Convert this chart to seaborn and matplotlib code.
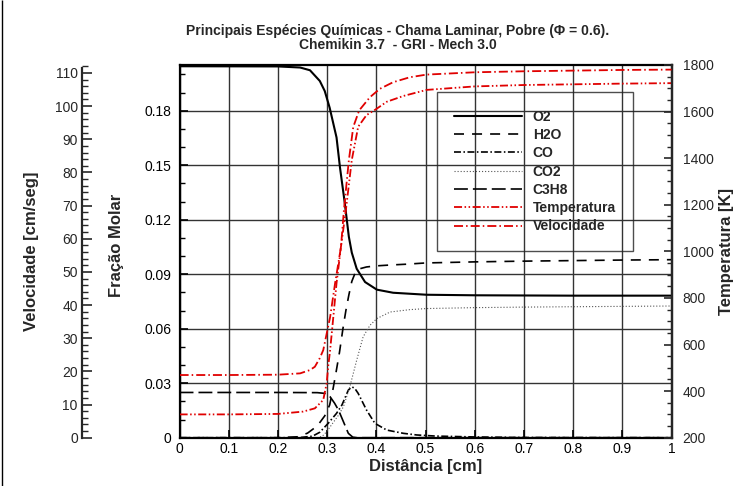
import matplotlib
matplotlib.use("Agg")
import matplotlib.pyplot as plt
import seaborn as sns
from matplotlib.ticker import MultipleLocator, FixedLocator, FixedFormatter
from matplotlib.patches import Rectangle

# --- dados (fracao molar) ---
x_o2 = [0, 0.2, 0.245, 0.265, 0.285, 0.295, 0.305, 0.319, 0.326, 0.336, 0.344, 0.350,
        0.360, 0.377, 0.401, 0.434, 0.502, 0.6, 0.7, 0.8, 0.9, 1.0]
o2 = [0.2045, 0.2044, 0.2038, 0.2023, 0.1964, 0.1909, 0.1817, 0.1653, 0.1488, 0.1287,
      0.1107, 0.1019, 0.0930, 0.0857, 0.0815, 0.0798, 0.0787, 0.0784, 0.0783, 0.0782,
      0.0782, 0.0782]

x_h2o = [0, 0.2, 0.24, 0.26, 0.28, 0.295, 0.305, 0.312, 0.318, 0.325, 0.332, 0.338,
         0.344, 0.350, 0.358, 0.366, 0.38, 0.40, 0.43, 0.46, 0.50, 0.6, 0.7, 0.8, 0.9, 1.0]
h2o = [0, 0, 0.0005, 0.0025, 0.0065, 0.012, 0.018, 0.027, 0.036, 0.047, 0.060, 0.070,
       0.0785, 0.0860, 0.0915, 0.0930, 0.0940, 0.0946, 0.0951, 0.0955, 0.0962, 0.0968,
       0.0972, 0.0975, 0.0978, 0.0980]

x_co = [0, 0.24, 0.27, 0.285, 0.302, 0.319, 0.330, 0.343, 0.350, 0.356, 0.363, 0.380,
        0.397, 0.421, 0.455, 0.482, 0.52, 0.6, 0.7, 1.0]
co = [0, 0, 0.0008, 0.003, 0.0079, 0.0134, 0.018, 0.0262, 0.0280, 0.0272, 0.0244,
      0.0152, 0.0079, 0.0042, 0.0024, 0.0015, 0.0009, 0.0004, 0.0001, 0.0]

x_co2 = [0, 0.28, 0.29, 0.299, 0.31, 0.322, 0.333, 0.346, 0.360, 0.373, 0.387, 0.401,
         0.428, 0.468, 0.502, 0.6, 0.7, 0.8, 0.9, 1.0]
co2 = [0, 0, 0.0008, 0.0033, 0.0075, 0.012, 0.017, 0.028, 0.0427, 0.0555, 0.0619,
       0.0656, 0.0692, 0.0705, 0.0711, 0.0716, 0.0719, 0.0721, 0.0723, 0.0725]

x_c3h8 = [0, 0.2, 0.28, 0.295, 0.306, 0.315, 0.323, 0.333, 0.343, 0.352, 0.36, 1.0]
c3h8 = [0.0249, 0.0249, 0.0248, 0.0244, 0.0225, 0.019, 0.0152, 0.0088, 0.0024, 0.0003, 0, 0]

# temperatura [K]
x_temp = [0, 0.1, 0.2, 0.251, 0.275, 0.292, 0.299, 0.302, 0.306, 0.3125, 0.319, 0.328,
          0.338, 0.350, 0.363, 0.380, 0.397, 0.421, 0.455, 0.502, 0.6, 0.7, 0.8, 0.9, 1.0]
temp = [300, 300, 302, 312, 326, 362, 434, 505, 576, 719, 863, 1020, 1177, 1392, 1535,
        1585, 1607, 1642, 1667, 1693, 1708, 1714, 1717, 1720, 1722]

# velocidade [cm/s]
x_vel = [0, 0.1, 0.2, 0.245, 0.265, 0.275, 0.285, 0.292, 0.306, 0.316, 0.328, 0.334,
         0.344, 0.353, 0.365, 0.387, 0.407, 0.434, 0.468, 0.502, 0.6, 0.7, 0.8, 0.9, 1.0]
vel = [18.9, 18.9, 19.0, 19.4, 20.4, 21.4, 24.0, 26.4, 36.4, 46.5, 57.5, 68.6, 83.6,
       93.7, 98.7, 102.7, 105.2, 107.2, 108.7, 109.5, 110.2, 110.5, 110.7, 110.9, 111.0]

x_ticks = [0, 0.1, 0.2, 0.3, 0.4, 0.5, 0.6, 0.7, 0.8, 0.9, 1.0]
x_labels = ["0", "0.1", "0.2", "0.3", "0.4", "0.5", "0.6", "0.7", "0.8", "0.9", "1"]
molar_ticks = [0, 0.03, 0.06, 0.09, 0.12, 0.15, 0.18]
molar_labels = ["0", "0.03", "0.06", "0.09", "0.12", "0.15", "0.18"]
temp_ticks = [200, 400, 600, 800, 1000, 1200, 1400, 1600, 1800]
vel_ticks = [0, 10, 20, 30, 40, 50, 60, 70, 80, 90, 100, 110]

sns.set_style("white")
plt.rcParams["font.family"] = ["Liberation Sans", "DejaVu Sans"]
plt.rcParams["lines.scale_dashes"] = False

RED = "#e00000"
TICK_FS = 10
LABEL_FS = 12

fig = plt.figure(figsize=(7.33, 4.86), dpi=100)
ax = fig.add_axes([0.245, 0.0994, 0.6712, 0.7669])
axT = ax.twinx()
axV = fig.add_axes(ax.get_position(), sharex=ax)
axV.patch.set_visible(False)

# curvas
sns.lineplot(x=x_o2, y=o2, ax=ax, color="black", lw=1.5, label="O2", legend=False)
sns.lineplot(x=x_h2o, y=h2o, ax=ax, color="black", lw=1.2,
             linestyle=(0, (7.2, 5.8)), label="H2O", legend=False)
sns.lineplot(x=x_co, y=co, ax=ax, color="black", lw=1.2,
             linestyle=(0, (5, 1.8, 1.1, 1.8)), label="CO", legend=False)
sns.lineplot(x=x_co2, y=co2, ax=ax, color="#555555", lw=0.8,
             linestyle=(0, (0.8, 1.4)), label="CO2", legend=False)
sns.lineplot(x=x_c3h8, y=c3h8, ax=ax, color="black", lw=1.2,
             linestyle=(0, (10, 3.6)), label="C3H8", legend=False)
sns.lineplot(x=x_temp, y=temp, ax=axT, color=RED, lw=1.3,
             linestyle=(0, (5.8, 1.8, 1.1, 1.8, 1.1, 1.8)), label="Temperatura", legend=False)
sns.lineplot(x=x_vel, y=vel, ax=axV, color=RED, lw=1.3,
             linestyle=(0, (6.5, 2.2, 1.1, 2.2)), label="Velocidade", legend=False)

# eixo principal (fracao molar)
ax.set_xlim(0, 1)
ax.set_ylim(0, 0.2052)
ax.xaxis.set_major_locator(FixedLocator(x_ticks))
ax.xaxis.set_major_formatter(FixedFormatter(x_labels))
ax.xaxis.set_minor_locator(MultipleLocator(0.02))
ax.yaxis.set_major_locator(FixedLocator(molar_ticks))
ax.yaxis.set_major_formatter(FixedFormatter(molar_labels))
ax.yaxis.set_minor_locator(MultipleLocator(0.01))
ax.grid(True, which="major", color="#333333", lw=1.0)
ax.tick_params(axis="both", which="both", direction="in", labelsize=TICK_FS, colors="black",
               width=1.2)
ax.tick_params(axis="both", which="major", length=6)
ax.tick_params(axis="both", which="minor", length=3.5, width=1.0)
ax.tick_params(axis="x", pad=3, bottom=True, top=False)
ax.tick_params(axis="y", pad=6, left=True, right=False)
for s in ax.spines.values():
    s.set_linewidth(1.6)
    s.set_color("black")
ax.set_xlabel("Distância [cm]", fontsize=LABEL_FS, fontweight="bold")
ax.xaxis.set_label_coords(0.5, -0.058)
ax.set_ylabel("Fração Molar", fontsize=LABEL_FS, fontweight="bold")
ax.yaxis.set_label_coords(-0.113, 0.515)

# temperatura (direita)
axT.set_ylim(200, 1800)
axT.yaxis.set_major_locator(FixedLocator(temp_ticks))
axT.yaxis.set_minor_locator(MultipleLocator(50))
axT.tick_params(axis="y", which="both", direction="in", labelsize=TICK_FS, pad=8, width=1.2)
axT.tick_params(axis="y", which="major", length=6)
axT.tick_params(axis="y", which="minor", length=3.5, width=1.0)
for k in ["left", "top", "bottom"]:
    axT.spines[k].set_visible(False)
axT.spines["right"].set_linewidth(1.6)
axT.set_ylabel("Temperatura [K]", fontsize=LABEL_FS, fontweight="bold")
axT.yaxis.set_label_coords(1.097, 0.5)

# velocidade (eixo deslocado a esquerda)
axV.set_ylim(0, 112.4)
axV.yaxis.set_ticks_position("left")
axV.yaxis.set_label_position("left")
axV.yaxis.set_major_locator(FixedLocator(vel_ticks))
axV.yaxis.set_minor_locator(MultipleLocator(2))
axV.tick_params(axis="y", which="both", direction="in", labelsize=TICK_FS, pad=3, width=1.2)
axV.tick_params(axis="y", which="major", length=7)
axV.tick_params(axis="y", which="minor", length=4, width=1.0)
axV.xaxis.set_visible(False)
for k in ["right", "top", "bottom"]:
    axV.spines[k].set_visible(False)
axV.spines["left"].set_position(("axes", -0.1984))
axV.spines["left"].set_linewidth(1.6)
axV.spines["left"].set_bounds(0, 111.5)
axV.set_ylabel("Velocidade [cm/seg]", fontsize=LABEL_FS, fontweight="bold")
axV.yaxis.set_label_coords(-0.285, 0.5)

# legenda
handles = ax.get_lines()[:5] + axT.get_lines()[:1] + axV.get_lines()[:1]
labels = ["O2", "H2O", "CO", "CO2", "C3H8", "Temperatura", "Velocidade"]
leg = axV.legend(handles, labels, loc="upper left", bbox_to_anchor=(0.5227, 0.9268),
                 borderaxespad=0, frameon=True, fancybox=False, facecolor="none",
                 edgecolor="#222222", prop={"weight": "bold", "size": 10},
                 handlelength=4.9, handletextpad=0.77, labelspacing=0.31, borderpad=1.25)
leg.get_frame().set_linewidth(1.0)

# titulo
fig.text(0.543, 0.922, "Principais Espécies Químicas - Chama Laminar, Pobre (Φ = 0.6).\n"
         "Chemikin 3.7  - GRI - Mech 3.0", ha="center", va="center",
         multialignment="center", fontsize=10, fontweight="bold", linespacing=1.0)

# moldura da pagina
fig.patches.append(Rectangle((0.003, 0.0), 0.0, 1.0, transform=fig.transFigure,
                             fill=False, edgecolor="black", lw=1.0))

fig.savefig("out.png", dpi=100)
